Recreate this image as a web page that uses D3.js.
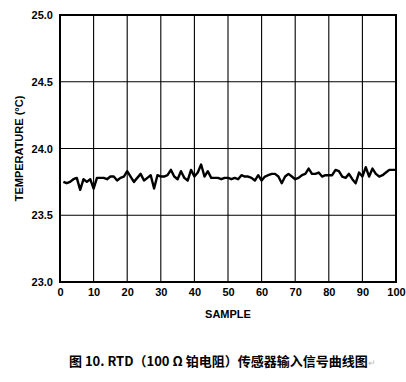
<!DOCTYPE html>
<html><head><meta charset="utf-8">
<script src="https://cdn.jsdelivr.net/npm/d3@7"></script>
<style>
html,body{margin:0;padding:0;background:#fff;}
svg{display:block;}
text{font-family:"Liberation Sans",Arial,sans-serif;font-weight:bold;fill:#000;}
</style></head>
<body>
<svg id="c" width="406" height="382"></svg>
<script>
const samples = d3.range(1, 101);
const temperature = [
23.75,23.74,23.75,23.77,23.78,23.69,23.77,23.75,23.77,23.70,
23.78,23.78,23.78,23.77,23.79,23.79,23.76,23.78,23.79,23.83,
23.79,23.75,23.78,23.81,23.76,23.78,23.80,23.70,23.80,23.79,
23.79,23.80,23.84,23.79,23.77,23.83,23.78,23.76,23.84,23.79,
23.82,23.88,23.79,23.83,23.78,23.78,23.78,23.77,23.78,23.78,
23.77,23.78,23.77,23.80,23.79,23.79,23.78,23.76,23.80,23.76,
23.79,23.80,23.81,23.81,23.79,23.74,23.79,23.81,23.79,23.77,
23.78,23.80,23.81,23.85,23.81,23.81,23.82,23.79,23.80,23.80,
23.80,23.84,23.83,23.79,23.78,23.81,23.77,23.74,23.82,23.79,
23.86,23.79,23.85,23.81,23.79,23.80,23.82,23.84,23.84,23.84];
const xTicks = [0,10,20,30,40,50,60,70,80,90,100];
const yTicks = [23.0,23.5,24.0,24.5,25.0];
const xTitle = "SAMPLE";
const yTitle = "TEMPERATURE (°C)";
const caption = "图 10. RTD（100 Ω 铂电阻）传感器输入信号曲线图";

const svg = d3.select("#c");
const L = 60, R = 396, T = 15, B = 282;
const x = d3.scaleLinear().domain([0,100]).range([L,R]);
const y = d3.scaleLinear().domain([23,25]).range([B,T]);

// grid
svg.append("g").selectAll("line").data(xTicks.slice(1,-1)).join("line")
  .attr("x1",d=>x(d)).attr("x2",d=>x(d)).attr("y1",T).attr("y2",B)
  .attr("stroke","#000").attr("stroke-width",1.1);
svg.append("g").selectAll("line").data(yTicks.slice(1,-1)).join("line")
  .attr("y1",d=>y(d)).attr("y2",d=>y(d)).attr("x1",L).attr("x2",R)
  .attr("stroke","#000").attr("stroke-width",1.1);

// frame
svg.append("rect").attr("x",L).attr("y",T).attr("width",R-L).attr("height",B-T)
  .attr("fill","none").attr("stroke","#000").attr("stroke-width",2);

// axes labels via d3 axes
const xAxis = d3.axisBottom(x).tickValues(xTicks).tickSize(0).tickPadding(6).tickFormat(d3.format("d"));
const gx = svg.append("g").attr("transform",`translate(0,${B})`).call(xAxis);
gx.select(".domain").remove();
gx.selectAll("text").attr("font-size",11).style("font-family","'Liberation Sans',Arial,sans-serif").style("font-weight","bold");

const yAxis = d3.axisLeft(y).tickValues(yTicks).tickSize(0).tickPadding(7).tickFormat(d3.format(".1f"));
const gy = svg.append("g").attr("transform",`translate(${L},0)`).call(yAxis);
gy.select(".domain").remove();
gy.selectAll("text").attr("font-size",11).style("font-family","'Liberation Sans',Arial,sans-serif").style("font-weight","bold");

// data line
const line = d3.line().x((d,i)=>x(samples[i])).y(d=>y(d));
svg.append("path").datum(temperature).attr("d",line)
  .attr("fill","none").attr("stroke","#000").attr("stroke-width",2.4).attr("stroke-linejoin","round");

// titles
svg.append("text").attr("x",(L+R)/2).attr("y",318).attr("text-anchor","middle")
  .attr("font-size",11).text(xTitle);
svg.append("text").attr("transform",`translate(23,${(T+B)/2}) rotate(-90)`)
  .attr("text-anchor","middle").attr("font-size",11).text(yTitle);

// caption
const cap = svg.append("text").attr("x",69).attr("y",366)
  .style("font-family","'Noto Sans CJK SC','Liberation Sans',sans-serif").attr("font-size",13);
cap.append("tspan").text(caption);
cap.append("tspan").attr("fill","#bbb").style("font-weight","normal").attr("font-size",9).text("↵");
</script>
</body></html>
